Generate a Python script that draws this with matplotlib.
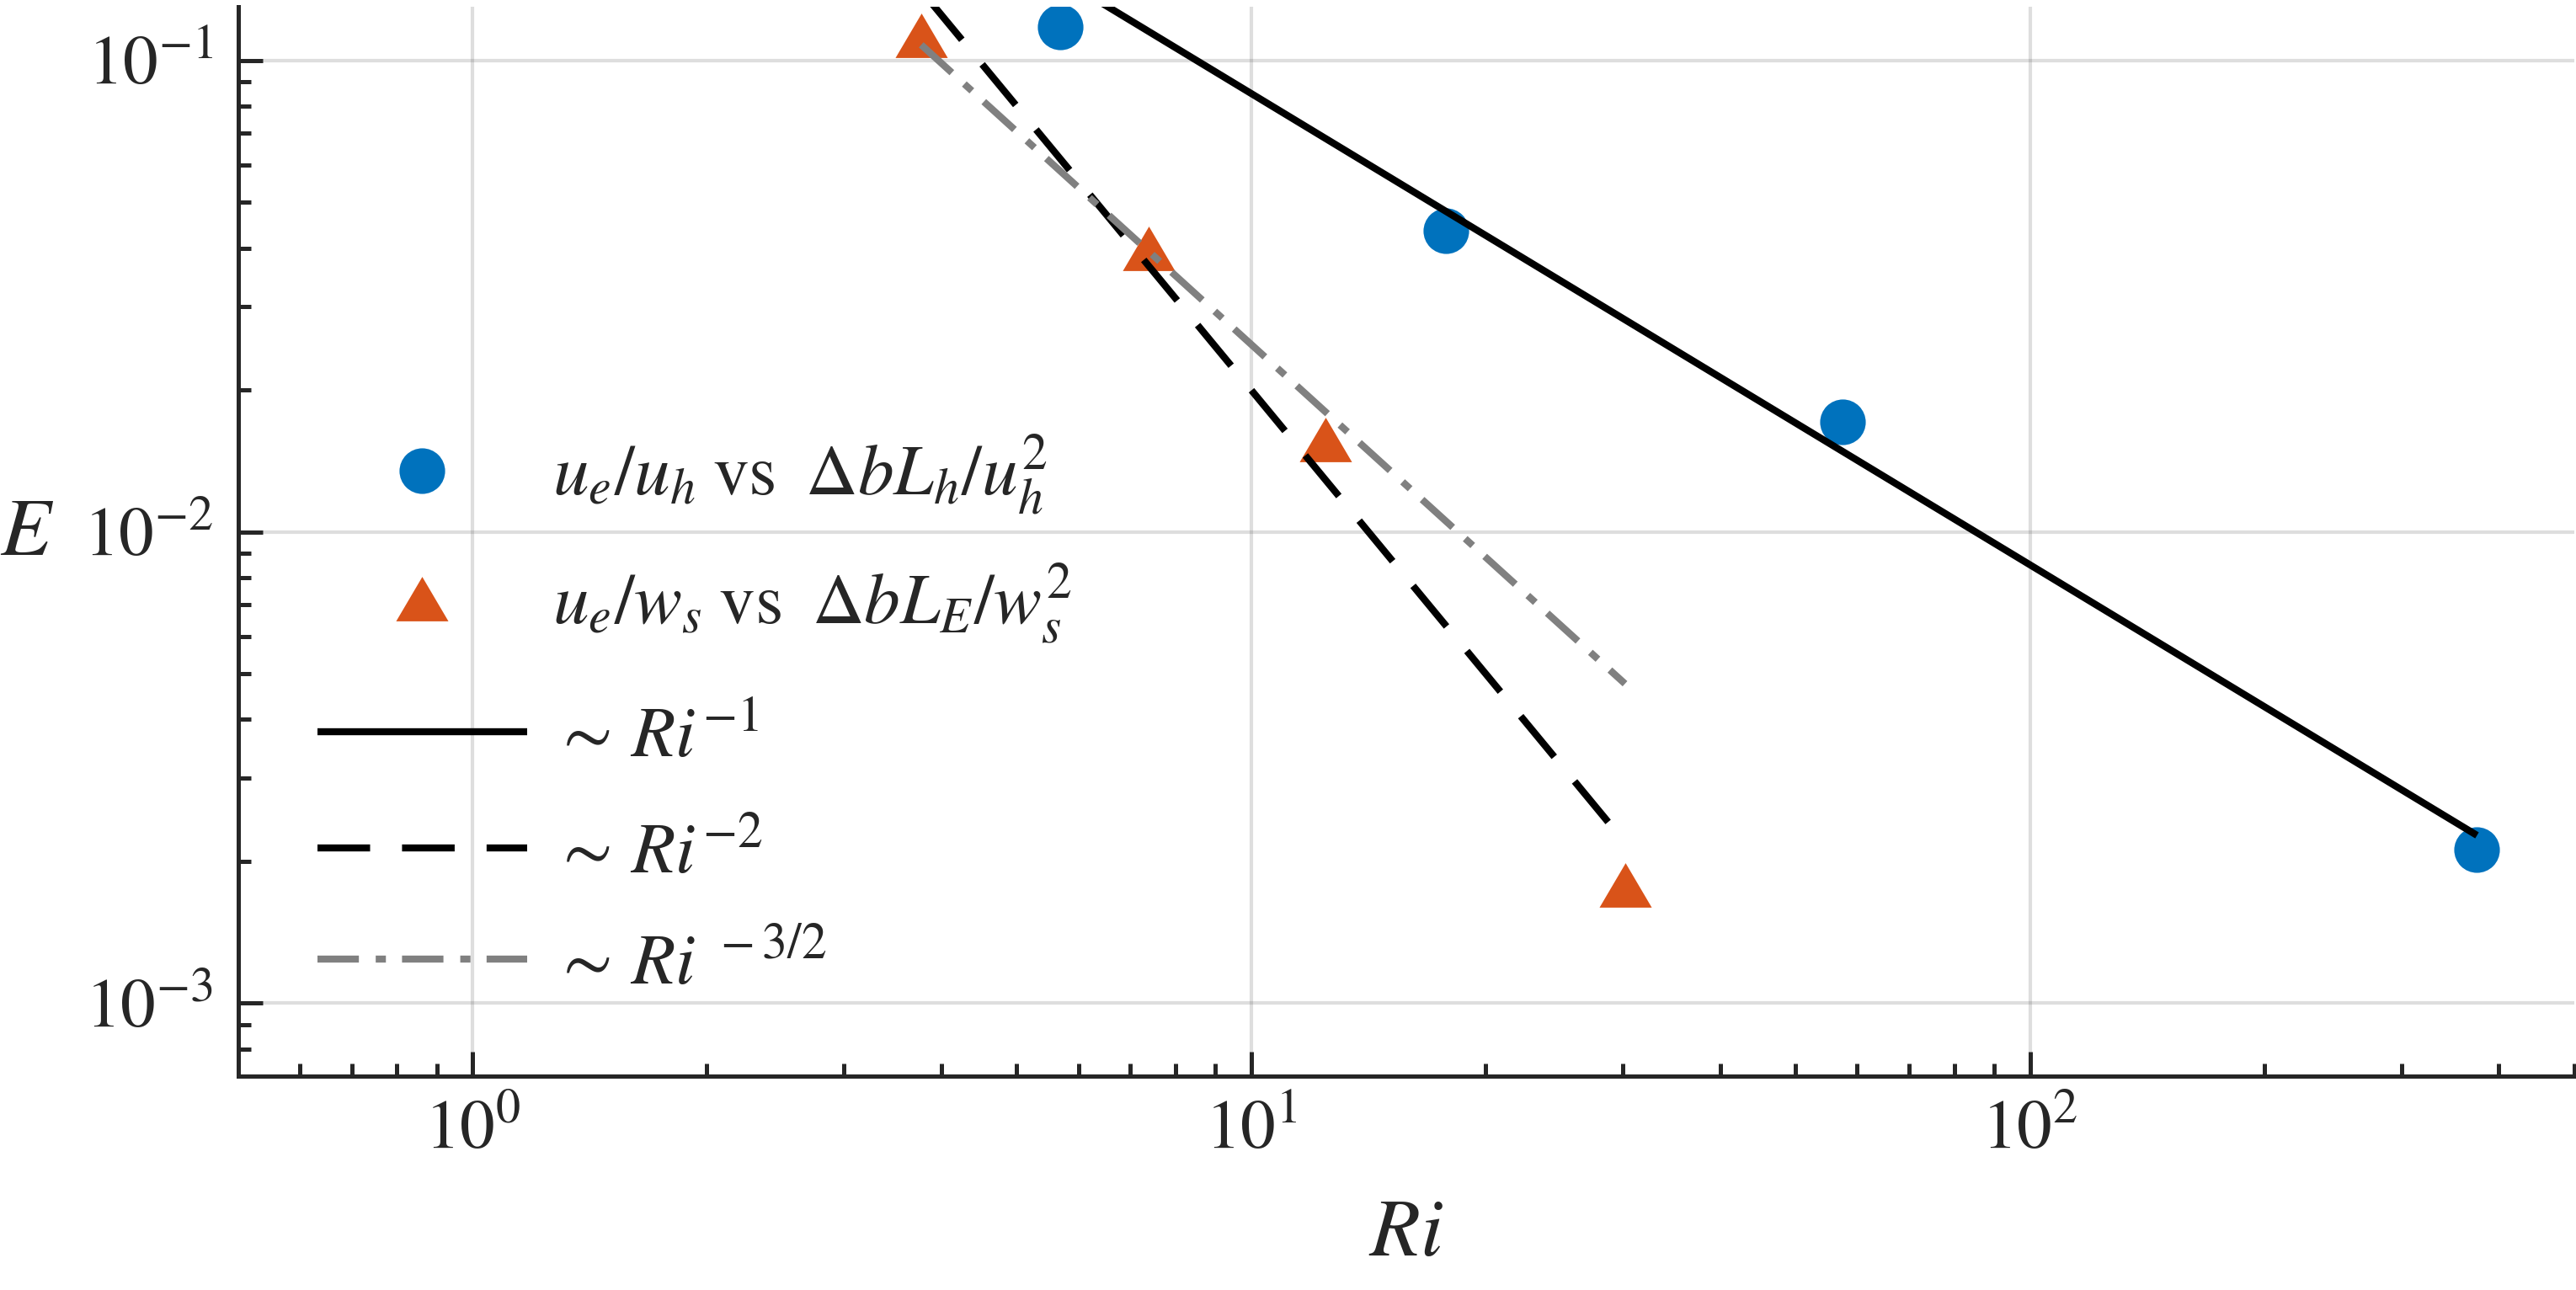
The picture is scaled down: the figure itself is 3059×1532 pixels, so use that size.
import matplotlib
matplotlib.use("Agg")
import matplotlib.pyplot as plt
import numpy as np

# ---------------- data ----------------
ri_h = [5.69, 17.8, 57.5, 375.0]          # Delta b L_h / u_h^2
e_h = [0.118, 0.0435, 0.0171, 0.00212]    # u_e / u_h
ri_s = [3.77, 7.39, 12.45, 30.2]          # Delta b L_E / w_s^2
e_s = [0.113, 0.0400, 0.0157, 0.00178]    # u_e / w_s

coef_m1 = 0.851    # E ~ coef * Ri^-1
coef_m2 = 2.0      # E ~ coef * Ri^-2
coef_m32 = 0.79    # E ~ coef * Ri^-3/2

x_limits = [0.5, 500]
y_limits = [7e-4, 0.13]

legend_labels = [
    r"$u_e/u_h\;\mathrm{vs}\;\;\Delta bL_h/u_h^2$",
    r"$u_e/w_s\;\mathrm{vs}\;\;\Delta bL_E/w_s^2$",
    r"$\sim\, Ri^{-1}$",
    r"$\sim\, Ri^{-2}$",
    r"$\sim\, Ri^{\;-3/2}$",
]
x_label = r"$Ri$"
y_label = r"$E$"

# ---------------- style ----------------
plt.rcParams["mathtext.fontset"] = "stix"
plt.rcParams["font.family"] = ["STIXGeneral", "DejaVu Serif"]
plt.rcParams["lines.scale_dashes"] = False

blue = "#0072BD"
orange = "#D95319"
gray = "#808080"
axc = "#262626"

W, H = 3059, 1532
fig = plt.figure(figsize=(W / 300, H / 300), dpi=300)
ax = fig.add_axes([282.5 / W, 1 - 1278 / H, (3057 - 282.5) / W, (1278 - 8) / H])
ax.set_xscale("log")
ax.set_yscale("log")

tri = [(0, 0.85), (-1, -0.85), (1, -0.85), (0, 0.85)]

h1, = ax.plot(ri_h, e_h, linestyle="none", marker="o", markersize=13.0,
              color=blue, markeredgewidth=0, zorder=3)
h2, = ax.plot(ri_s, e_s, linestyle="none", marker=tri, markersize=14.9,
              color=orange, markeredgewidth=0, zorder=3)

xh = np.array([ri_h[0], ri_h[-1]])
xs = np.array([ri_s[0], ri_s[-1]])
h3, = ax.plot(xh, coef_m1 * xh ** -1.0, color="black", lw=2.0,
              solid_capstyle="butt", zorder=4)
h4, = ax.plot(xs, coef_m2 * xs ** -2.0, color="black", lw=2.0,
              linestyle=(0, (15, 9.1)), dash_capstyle="butt", zorder=4)
h5, = ax.plot(xs, coef_m32 * xs ** -1.5, color=gray, lw=2.0,
              linestyle=(0, (11.8, 4.8, 2.9, 4.6)), dash_capstyle="butt", zorder=4)

ax.set_xlim(x_limits)
ax.set_ylim(y_limits)

ax.grid(True, which="major", color=axc, alpha=0.15, linewidth=1.0)
ax.set_axisbelow(True)

for s in ["top", "right"]:
    ax.spines[s].set_visible(False)
for s in ["left", "bottom"]:
    ax.spines[s].set_linewidth(1.2)
    ax.spines[s].set_color(axc)

ax.tick_params(which="major", direction="in", length=7, width=1.2,
               colors=axc, pad=7, labelsize=20)
ax.tick_params(which="minor", direction="in", length=3.7, width=1.2, colors=axc)

ax.set_xlabel(x_label, fontsize=23.5, color=axc)
ax.set_ylabel(y_label, fontsize=23.5, color=axc, rotation=0, ha="center", va="center")
ax.xaxis.set_label_coords(0.5, -0.15)
ax.xaxis.label.set_va("center")
ax.yaxis.set_label_coords(-0.0903, 0.505)

# legend: one row per entry so the row positions follow the reference
handles = [h1, h2, h3, h4, h5]
row_y = [565, 717, 878, 1015, 1147]   # pixel rows of entry centres
for h, lab, yy in zip(handles, legend_labels, row_y):
    lg = fig.legend([h], [lab], loc="center left",
                    bbox_to_anchor=(376.8 / W, 1 - yy / H),
                    frameon=False, fontsize=20.5, handlelength=2.915,
                    handletextpad=0.35, borderpad=0, borderaxespad=0,
                    numpoints=1)
    for t in lg.get_texts():
        t.set_color(axc)

fig.savefig("out.png", dpi=300)
